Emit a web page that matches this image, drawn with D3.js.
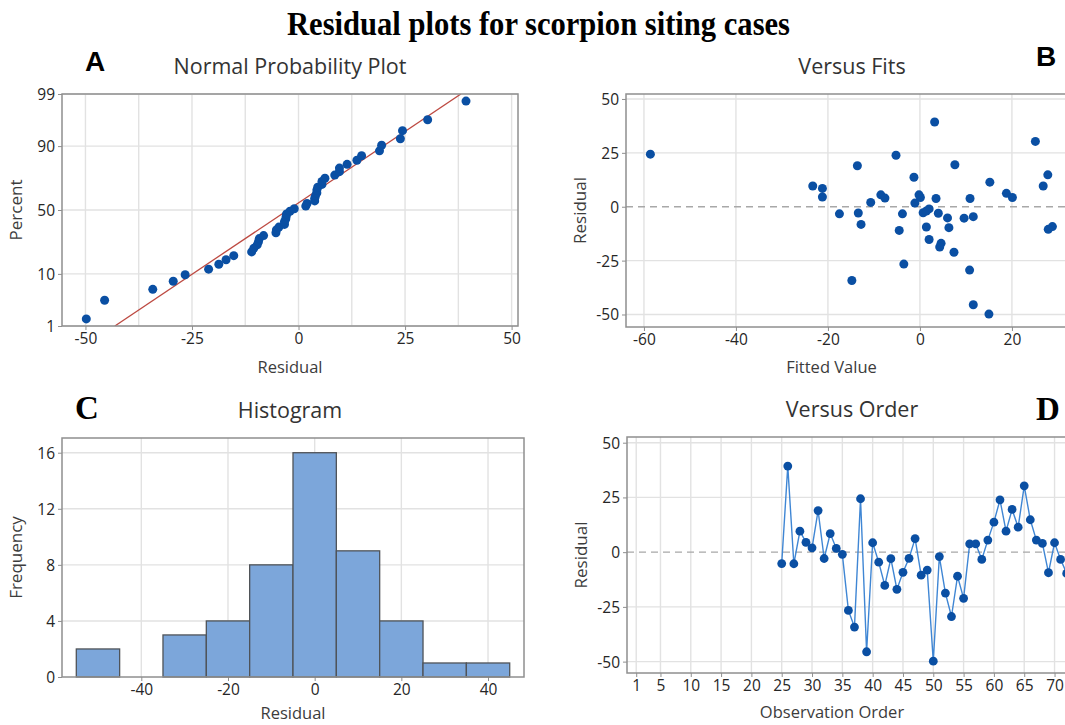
<!DOCTYPE html>
<html>
<head>
<meta charset="utf-8">
<script src="https://cdn.jsdelivr.net/npm/d3@7"></script>
<style>
  body { margin: 0; background: #fff; }
  text { font-family: "Open Sans", "Noto Sans", sans-serif; }
</style>
</head>
<body>
<div id="chart"></div>
<script>
// Residuals in observation order
const observations = [25, 26, 27, 28, 29, 30, 31, 32, 33, 34, 35, 36, 37, 38, 39, 40,
    41, 42, 43, 44, 45, 46, 47, 48, 49, 50, 51, 52, 53, 54, 55, 56,
    57, 58, 59, 60, 61, 62, 63, 64, 65, 66, 67, 68, 69, 70, 71, 72];
const residuals = [-5.2, 39.3, -5.3, 9.6, 4.5, 2.0, 19.0, -2.9, 8.5, 1.7, -1.0, -26.6, -34.2, 24.4, -45.5, 4.3,
    -4.6, -15.2, -3.0, -17.0, -9.2, -2.8, 6.2, -10.5, -8.2, -49.8, -2.0, -18.7, -29.4, -11.0, -21.1, 3.8,
    3.8, -3.3, 5.5, 13.7, 23.9, 9.6, 19.5, 11.4, 30.3, 14.8, 5.5, 4.0, -9.4, 4.3, -3.3, -9.7];
// Fitted value of each observation
const fittedValues = [6.0, 3.2, 9.6, -23.3, -21.2, -10.7, -13.6, -13.4, -21.2, -1.1, 2.0, -3.5, -14.8, -58.6, 11.6, 0.1,
    11.6, 2.0, 4.0, 4.6, 28.8, 0.7, 18.8, 27.9, -12.8, 15.0, 1.4, 4.3, 10.8, -4.5, 7.4, 3.5,
    10.9, -17.5, -8.5, -1.3, -5.2, 26.8, 7.6, 15.2, 25.1, 27.8, -0.2, -7.6, 1.4, 20.1, -3.8, 6.3];

// Histogram
const histBinStart = [-55, -45, -35, -25, -15, -5, 5, 15, 25, 35];
const histBinWidth = 10;
const histCounts = [2, 0, 3, 4, 8, 16, 9, 4, 1, 1];

// Normal probability plot
const probTicks = [1, 10, 50, 90, 99];
const fitLinePct = [1, 99];
const fitLineResid = [-43.1, 38.1];

// Tick values
const probXTicks = [-50, -25, 0, 25, 50];
const probXGrid = [-50, -37.5, -25, -12.5, 0, 12.5, 25, 37.5, 50];
const fitsXTicks = [-60, -40, -20, 0, 20];
const residTicks = [-50, -25, 0, 25, 50];
const histXTicks = [-40, -20, 0, 20, 40];
const histYTicks = [0, 4, 8, 12, 16];
const orderTicks = [1, 5, 10, 15, 20, 25, 30, 35, 40, 45, 50, 55, 60, 65, 70];

const W = 1065, H = 725;
const pointColor = "#0a4fa3";
const gridColor = "#e2e2e2";
const frameColor = "#8f8f8f";
const textColor = "#262626";

// inverse of the standard normal CDF (Acklam)
function normInv(p) {
    const a = [-3.969683028665376e+01, 2.209460984245205e+02, -2.759285104469687e+02, 1.383577518672690e+02, -3.066479806614716e+01, 2.506628277459239e+00];
    const b = [-5.447609879822406e+01, 1.615858368580409e+02, -1.556989798598866e+02, 6.680131188771972e+01, -1.328068155288572e+01];
    const c = [-7.784894002430293e-03, -3.223964580411365e-01, -2.400758277161838e+00, -2.549732539343734e+00, 4.374664141464968e+00, 2.938163982698783e+00];
    const d = [7.784695709041462e-03, 3.224671290700398e-01, 2.445134137142996e+00, 3.754408661907416e+00];
    const pl = 0.02425;
    let q, r;
    if (p < pl) {
        q = Math.sqrt(-2 * Math.log(p));
        return (((((c[0]*q+c[1])*q+c[2])*q+c[3])*q+c[4])*q+c[5]) / ((((d[0]*q+d[1])*q+d[2])*q+d[3])*q+1);
    }
    if (p > 1 - pl) {
        q = Math.sqrt(-2 * Math.log(1 - p));
        return -(((((c[0]*q+c[1])*q+c[2])*q+c[3])*q+c[4])*q+c[5]) / ((((d[0]*q+d[1])*q+d[2])*q+d[3])*q+1);
    }
    q = p - 0.5; r = q * q;
    return (((((a[0]*r+a[1])*r+a[2])*r+a[3])*r+a[4])*r+a[5])*q / (((((b[0]*r+b[1])*r+b[2])*r+b[3])*r+b[4])*r+1);
}

const svg = d3.select("#chart")
    .append("svg")
    .attr("width", W)
    .attr("height", H)
    .style("display", "block");

svg.append("rect").attr("width", W).attr("height", H).attr("fill", "#fff");

// Grid, frame and axes of one panel
function drawPanel(box, x, y, opt) {
    const g = svg.append("g");

    g.selectAll(".vgrid")
        .data(opt.xGrid)
        .enter().append("line")
        .attr("x1", d => x(d)).attr("x2", d => x(d))
        .attr("y1", box.top).attr("y2", box.bottom)
        .attr("stroke", gridColor).attr("stroke-width", 1.4);

    g.selectAll(".hgrid")
        .data(opt.yGrid)
        .enter().append("line")
        .attr("x1", box.left).attr("x2", box.right)
        .attr("y1", d => y(d)).attr("y2", d => y(d))
        .attr("stroke", gridColor).attr("stroke-width", 1.4);

    // x axis
    const xa = g.append("g")
        .attr("transform", `translate(0,${box.bottom})`)
        .call(d3.axisBottom(x).tickValues(opt.xTicks).tickSize(4).tickSizeOuter(0)
            .tickFormat(opt.xFormat || (d => d)));
    // y axis
    const ya = g.append("g")
        .attr("transform", `translate(${box.left},0)`)
        .call(d3.axisLeft(y).tickValues(opt.yTicks).tickSize(4).tickSizeOuter(0)
            .tickFormat(opt.yFormat || (d => d)));

    [xa, ya].forEach(a => {
        a.select(".domain").remove();
        a.selectAll("line").attr("stroke", frameColor);
        a.selectAll("text")
            .attr("fill", textColor)
            .style("font-size", "15.5px")
            .text(function () { return d3.select(this).text().replace("−", "-"); });
    });
    xa.selectAll("text").attr("y", 5).attr("dy", "0.85em");
    ya.selectAll("text").attr("dy", "0.35em").attr("x", -7);

    // axis titles
    g.append("text")
        .attr("x", (box.left + Math.min(box.right, W)) / 2 + (opt.xTitleShift || 0))
        .attr("y", box.bottom + opt.xTitleGap)
        .attr("text-anchor", "middle")
        .attr("fill", "#3c3c3c")
        .style("font-size", "16.5px")
        .text(opt.xTitle);

    g.append("text")
        .attr("transform", `translate(${box.left - 40},${(box.top + box.bottom) / 2}) rotate(-90)`)
        .attr("text-anchor", "middle")
        .attr("fill", "#3c3c3c")
        .style("font-size", "17px")
        .text(opt.yTitle);

    // panel title
    g.append("text")
        .attr("x", opt.titleX)
        .attr("y", box.top - 20)
        .attr("text-anchor", "middle")
        .attr("fill", "#333")
        .style("font-size", "21.5px")
        .text(opt.title);

    return g;
}

function drawFrame(box) {
    svg.append("rect")
        .attr("x", box.left).attr("y", box.top)
        .attr("width", box.right - box.left).attr("height", box.bottom - box.top)
        .attr("fill", "none")
        .attr("stroke", frameColor)
        .attr("stroke-width", 1.5);
}

function clipFor(id, box) {
    svg.append("clipPath").attr("id", id)
        .append("rect")
        .attr("x", box.left).attr("y", box.top)
        .attr("width", box.right - box.left).attr("height", box.bottom - box.top);
}

// ---------------- A: Normal probability plot ----------------
const boxA = { left: 62, right: 518, top: 94, bottom: 326 };
const xA = d3.scaleLinear().domain([-55.5, 51.5]).range([boxA.left, boxA.right]);
const yA = d3.scaleLinear().domain([normInv(0.01), normInv(0.99)]).range([boxA.bottom, boxA.top]);

drawPanel(boxA, xA, yA, {
    xGrid: probXGrid,
    yGrid: probTicks.map(p => normInv(p / 100)),
    xTicks: probXTicks,
    yTicks: probTicks.map(p => normInv(p / 100)),
    yFormat: (d, i) => probTicks[i],
    xTitle: "Residual",
    xTitleGap: 47,
    yTitle: "Percent",
    title: "Normal Probability Plot",
    titleX: 290
});
clipFor("clipA", boxA);

const sorted = residuals.slice().sort(d3.ascending);
const nRes = sorted.length;
const probPoints = sorted.map((r, i) => ({ r: r, z: normInv((i + 1 - 0.3) / (nRes + 0.4)) }));

svg.append("line")
    .attr("clip-path", "url(#clipA)")
    .attr("x1", xA(fitLineResid[0])).attr("y1", yA(normInv(fitLinePct[0] / 100)))
    .attr("x2", xA(fitLineResid[1])).attr("y2", yA(normInv(fitLinePct[1] / 100)))
    .attr("stroke", "#bd4a42")
    .attr("stroke-width", 1.3);

svg.append("g").selectAll("circle")
    .data(probPoints)
    .enter().append("circle")
    .attr("cx", d => xA(d.r))
    .attr("cy", d => yA(d.z))
    .attr("r", 4.5)
    .attr("fill", pointColor);
drawFrame(boxA);

// ---------------- B: Versus fits ----------------
const boxB = { left: 626, right: 1080, top: 94, bottom: 327 };
const xB = d3.scaleLinear().domain([-63.9, 34.8]).range([boxB.left, boxB.right]);
const yB = d3.scaleLinear().domain([-55.8, 52.3]).range([boxB.bottom, boxB.top]);

drawPanel(boxB, xB, yB, {
    xGrid: fitsXTicks,
    yGrid: [-50, -25, 25, 50],
    xTicks: fitsXTicks,
    yTicks: residTicks,
    xTitle: "Fitted Value",
    xTitleGap: 46,
    xTitleShift: -14,
    yTitle: "Residual",
    title: "Versus Fits",
    titleX: 852
});

svg.append("line")
    .attr("x1", boxB.left).attr("x2", boxB.right)
    .attr("y1", yB(0)).attr("y2", yB(0))
    .attr("stroke", "#a8a8a8").attr("stroke-width", 1.4)
    .attr("stroke-dasharray", "7,5");

svg.append("g").selectAll("circle")
    .data(observations)
    .enter().append("circle")
    .attr("cx", (d, i) => xB(fittedValues[i]))
    .attr("cy", (d, i) => yB(residuals[i]))
    .attr("r", 4.5)
    .attr("fill", pointColor);
drawFrame(boxB);

// ---------------- C: Histogram ----------------
const boxC = { left: 62, right: 524, top: 438, bottom: 677 };
const xC = d3.scaleLinear().domain([-58.3, 48.3]).range([boxC.left, boxC.right]);
const yC = d3.scaleLinear().domain([0, 17.05]).range([boxC.bottom, boxC.top]);

drawPanel(boxC, xC, yC, {
    xGrid: histXTicks,
    yGrid: [4, 8, 12, 16],
    xTicks: histXTicks,
    yTicks: histYTicks,
    xTitle: "Residual",
    xTitleGap: 42,
    yTitle: "Frequency",
    title: "Histogram",
    titleX: 290
});

svg.append("g").selectAll("rect")
    .data(histCounts)
    .enter().append("rect")
    .attr("x", (d, i) => xC(histBinStart[i]))
    .attr("width", (d, i) => xC(histBinStart[i] + histBinWidth) - xC(histBinStart[i]))
    .attr("y", d => yC(d))
    .attr("height", d => yC(0) - yC(d))
    .attr("fill", "#7ca6da")
    .attr("stroke", "#4f5358")
    .attr("stroke-width", 1.3);
drawFrame(boxC);

// ---------------- D: Versus order ----------------
const boxD = { left: 627, right: 1080, top: 437, bottom: 673 };
const xD = d3.scaleLinear().domain([-0.52, 74.2]).range([boxD.left, boxD.right]);
const yD = d3.scaleLinear().domain([-55.2, 52.6]).range([boxD.bottom, boxD.top]);

drawPanel(boxD, xD, yD, {
    xGrid: orderTicks,
    yGrid: [-50, -25, 25, 50],
    xTicks: orderTicks,
    yTicks: residTicks,
    xTitle: "Observation Order",
    xTitleGap: 45,
    xTitleShift: -14,
    yTitle: "Residual",
    title: "Versus Order",
    titleX: 852
});

svg.append("line")
    .attr("x1", boxD.left).attr("x2", boxD.right)
    .attr("y1", yD(0)).attr("y2", yD(0))
    .attr("stroke", "#a8a8a8").attr("stroke-width", 1.4)
    .attr("stroke-dasharray", "7,5");

svg.append("path")
    .datum(observations)
    .attr("fill", "none")
    .attr("stroke", "#3f86d4")
    .attr("stroke-width", 1.4)
    .attr("d", d3.line().x(d => xD(d)).y((d, i) => yD(residuals[i])));

svg.append("g").selectAll("circle")
    .data(observations)
    .enter().append("circle")
    .attr("cx", d => xD(d))
    .attr("cy", (d, i) => yD(residuals[i]))
    .attr("r", 4.4)
    .attr("fill", pointColor);
drawFrame(boxD);

// ---------------- titles and panel letters ----------------
svg.append("text")
    .attr("x", 287).attr("y", 35)
    .attr("textLength", 503)
    .attr("lengthAdjust", "spacingAndGlyphs")
    .style("font-family", "'Liberation Serif', 'Times New Roman', serif")
    .style("font-weight", "bold")
    .style("font-size", "33px")
    .attr("fill", "#000")
    .text("Residual plots for scorpion siting cases");

const sansLetters = [["A", 95, 71], ["B", 1046, 66]];
svg.selectAll(".sansLetter")
    .data(sansLetters)
    .enter().append("text")
    .attr("x", d => d[1]).attr("y", d => d[2])
    .attr("text-anchor", "middle")
    .style("font-family", "'Liberation Sans', Arial, sans-serif")
    .style("font-weight", "bold")
    .style("font-size", "28px")
    .attr("fill", "#000")
    .text(d => d[0]);

const serifLetters = [["C", 87, 419], ["D", 1048, 420]];
svg.selectAll(".serifLetter")
    .data(serifLetters)
    .enter().append("text")
    .attr("x", d => d[1]).attr("y", d => d[2])
    .attr("text-anchor", "middle")
    .style("font-family", "'Liberation Serif', 'Times New Roman', serif")
    .style("font-weight", "bold")
    .style("font-size", "33px")
    .attr("fill", "#000")
    .text(d => d[0]);
</script>
</body>
</html>
